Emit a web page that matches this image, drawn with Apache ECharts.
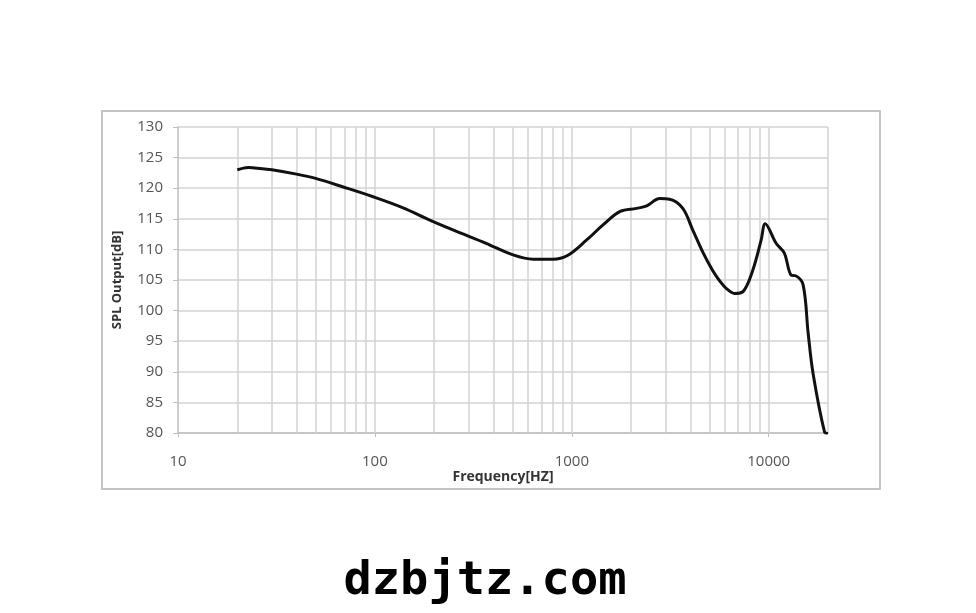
<!DOCTYPE html>
<html>
<head>
<meta charset="utf-8">
<script src="https://cdn.jsdelivr.net/npm/echarts@6/dist/echarts.min.js"></script>
<style>html,body{margin:0;padding:0;background:#fff;}#c{width:976px;height:613px;}</style>
</head>
<body>
<div id="c"></div>
<script>
// Frequency (Hz) and SPL output (dB)
var freq = [20, 22.7, 24.6, 30, 40, 50, 69, 98, 139, 190, 249, 367, 503, 637, 802, 950, 1186, 1440, 1760, 2130, 2400, 2795, 3140, 3660, 4110, 4620, 5200, 5650, 6100, 6700, 7400, 8300, 9150, 9600, 10900, 12000, 13000, 13700, 14950, 15860, 16800, 19200, 20000];
var spl  = [123.0, 123.4, 123.3, 123.0, 122.3, 121.6, 120.2, 118.6, 116.8, 114.8, 113.2, 111.0, 109.1, 108.4, 108.4, 109.0, 111.5, 114.0, 116.2, 116.7, 117.1, 118.3, 118.2, 116.7, 113.2, 109.6, 106.5, 104.8, 103.6, 102.8, 103.1, 106.6, 111.5, 114.2, 111.0, 109.4, 105.8, 105.7, 104.2, 96.3, 89.7, 80.2, 79.9];
// vertical grid lines (log decades)
var gridFreqs = [20,30,40,50,60,70,80,90,100,200,300,400,500,600,700,800,900,1000,2000,3000,4000,5000,6000,7000,8000,9000,10000,20000];
var xTickLabels = [10, 100, 1000, 10000];
var yMin = 80, yMax = 130, yStep = 5;
var xLabelName = 'Frequency[HZ]';
var yLabelName = 'SPL Output[dB]';
var watermark = 'dzbjtz.com';

var chart = echarts.init(document.getElementById('c'));
var pts = freq.map(function (f, i) { return [f, spl[i]]; });
var gridColor = '#d3d3d3';
var font = 'Open Sans, Liberation Sans, sans-serif';

chart.setOption({
  animation: false,
  backgroundColor: '#fff',
  grid: { left: 178, right: 148, top: 127, bottom: 180, containLabel: false },
  xAxis: {
    type: 'log', logBase: 10, min: 10, max: 20000,
    name: xLabelName, nameLocation: 'middle', nameGap: 33,
    nameTextStyle: { fontFamily: font, fontWeight: 'bold', fontSize: 14, color: '#333' },
    axisLine: { show: true, lineStyle: { color: '#bfbfbf', width: 1.5 } },
    axisTick: { show: true, length: 4, lineStyle: { color: '#bfbfbf' } },
    axisLabel: {
      margin: 21, fontFamily: font, fontSize: 15, color: '#555', showMaxLabel: false,
      formatter: function (v) { return xTickLabels.indexOf(Math.round(v)) >= 0 ? String(Math.round(v)) : ''; }
    },
    splitLine: { show: false }
  },
  yAxis: {
    type: 'value', min: yMin, max: yMax, interval: yStep,
    name: yLabelName, nameLocation: 'middle', nameGap: 54, nameRotate: 90,
    nameTextStyle: { fontFamily: font, fontWeight: 'bold', fontSize: 13, color: '#333' },
    axisLine: { show: true, lineStyle: { color: '#bfbfbf', width: 1.5 } },
    axisTick: { show: true, length: 5, lineStyle: { color: '#bfbfbf' } },
    axisLabel: { margin: 15, fontFamily: font, fontSize: 15, color: '#555' },
    splitLine: { show: true, lineStyle: { color: gridColor, width: 1.5 } }
  },
  graphic: [
    { type: 'rect', shape: { x: 102, y: 111, width: 778, height: 378 }, style: { fill: 'none', stroke: '#c4c4c4', lineWidth: 2 }, z: -1 },
    { type: 'text', x: 485, y: 582, style: { text: watermark, font: 'bold 47px "DejaVu Sans Mono", monospace', fill: '#000', textAlign: 'center', textVerticalAlign: 'middle' } }
  ],
  series: [
    {
      type: 'line', data: [], z: 1, silent: true,
      markLine: {
        silent: true, symbol: 'none', animation: false,
        label: { show: false },
        lineStyle: { color: gridColor, width: 1.5, type: 'solid' },
        data: gridFreqs.map(function (f) { return { xAxis: f }; })
      }
    },
    {
      type: 'line', data: pts, z: 5, smooth: 0.35, showSymbol: false, symbol: 'none',
      lineStyle: { color: '#111', width: 3 }
    }
  ]
});
</script>
</body>
</html>
